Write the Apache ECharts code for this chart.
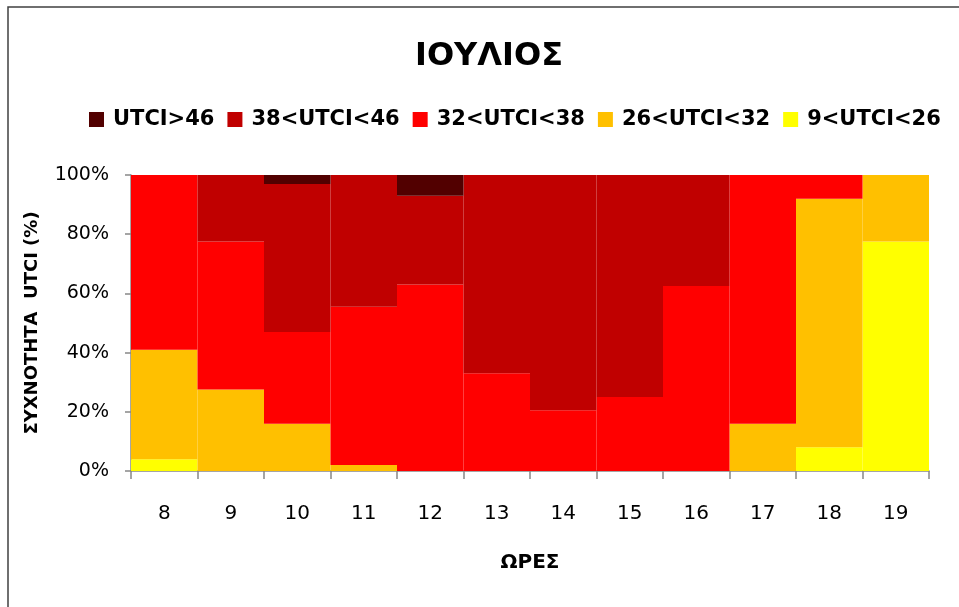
<!DOCTYPE html>
<html>
<head>
<meta charset="utf-8">
<script src="https://cdn.jsdelivr.net/npm/echarts@6/dist/echarts.min.js"></script>
<style>html,body{margin:0;padding:0;background:#fff;}#c{width:959px;height:607px;}</style>
</head>
<body>
<div id="c"></div>
<script>
const hours = ['8','9','10','11','12','13','14','15','16','17','18','19'];
const seriesNames = ['UTCI>46','38<UTCI<46','32<UTCI<38','26<UTCI<32','9<UTCI<26'];
const utciOver46 = [0,0,3,0,7,0,0,0,0,0,0,0];
const utci38to46 = [0,22.5,50,44.5,30,67,79.5,75,37.5,0,0,0];
const utci32to38 = [59,50,31,53.5,63,33,20.5,25,62.5,84,8,0];
const utci26to32 = [37,27.5,16,2,0,0,0,0,0,16,84,22.5];
const utci9to26 = [4,0,0,0,0,0,0,0,0,0,8,77.5];
const yTicks = [0,20,40,60,80,100];

const colors = {
  'UTCI>46':'#520000',
  '38<UTCI<46':'#C00000',
  '32<UTCI<38':'#FF0000',
  '26<UTCI<32':'#FFC000',
  '9<UTCI<26':'#FFFF00'
};
const dataByName = {
  'UTCI>46':utciOver46,
  '38<UTCI<46':utci38to46,
  '32<UTCI<38':utci32to38,
  '26<UTCI<32':utci26to32,
  '9<UTCI<26':utci9to26
};
const stackOrder = ['9<UTCI<26','26<UTCI<32','32<UTCI<38','38<UTCI<46','UTCI>46'];
const FONT = '"DejaVu Sans"';

const chart = echarts.init(document.getElementById('c'));
chart.setOption({
  animation:false,
  backgroundColor:'#fff',
  graphic:[{type:'rect',shape:{x:8,y:7,width:1000,height:1000},style:{fill:'none',stroke:'#404040',lineWidth:1.5},silent:true}],
  title:{text:'ΙΟΥΛΙΟΣ',left:410,top:36,textStyle:{fontFamily:FONT,fontWeight:'bold',fontSize:32,color:'#000'}},
  legend:{data:seriesNames,top:104,left:84,itemWidth:15,itemHeight:15,itemGap:13,icon:'rect',
    textStyle:{fontFamily:FONT,fontWeight:'bold',fontSize:21,color:'#000',padding:[0,0,0,4]}},
  grid:{left:131,right:30,top:175,bottom:136,containLabel:false},
  xAxis:{type:'category',data:hours,
    name:'ΩΡΕΣ',nameLocation:'middle',nameGap:82,
    nameTextStyle:{fontFamily:FONT,fontWeight:'bold',fontSize:20,color:'#000'},
    axisLine:{lineStyle:{color:'#888',width:1.5}},
    axisTick:{show:true,length:8,alignWithLabel:false,lineStyle:{color:'#888',width:1.5}},
    axisLabel:{fontFamily:FONT,fontSize:20,color:'#000',margin:33}},
  yAxis:{type:'value',min:yTicks[0],max:yTicks[yTicks.length-1],interval:20,
    name:'ΣΥΧΝΟΤΗΤΑ  UTCI (%)',nameLocation:'middle',nameGap:90,nameRotate:90,
    nameTextStyle:{fontFamily:FONT,fontWeight:'bold',fontSize:18,color:'#000'},
    axisLine:{show:true,lineStyle:{color:'#888',width:1.5}},
    axisTick:{show:true,length:6,lineStyle:{color:'#888',width:1.5}},
    splitLine:{show:false},
    axisLabel:{fontFamily:FONT,fontSize:19,color:'#000',margin:22,formatter:'{value}%'}},
  series:stackOrder.map(n=>({
    name:n,type:'bar',stack:'total',barCategoryGap:0,barGap:0,
    itemStyle:{color:colors[n]},
    data:dataByName[n]
  }))
});
</script>
</body>
</html>
